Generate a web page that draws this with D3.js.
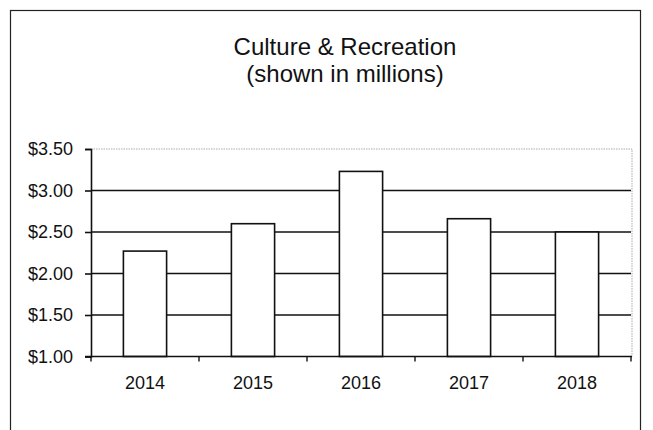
<!DOCTYPE html>
<html>
<head>
<meta charset="utf-8">
<script src="https://cdn.jsdelivr.net/npm/d3@7"></script>
<style>
  html, body { margin: 0; padding: 0; background: #fff; }
  svg { display: block; }
  text { font-family: "Liberation Sans", Arial, sans-serif; fill: #111; }
</style>
</head>
<body>
<svg id="chart" width="653" height="430"></svg>
<script>
// Culture & Recreation spending by year, in millions of dollars
const years = ["2014", "2015", "2016", "2017", "2018"];
const spending = [2.27, 2.60, 3.23, 2.66, 2.50];
const yTicks = [1.00, 1.50, 2.00, 2.50, 3.00, 3.50];
const titleLines = ["Culture & Recreation", "(shown in millions)"];

const svg = d3.select("#chart");
const W = 653, H = 430;
const plot = { left: 91, right: 631, top: 149, bottom: 356.5 };
const FONT = "Liberation Sans, Arial, sans-serif";

// outer frame (open at the bottom edge of the page)
svg.append("rect")
  .attr("x", 10.5).attr("y", 10.5)
  .attr("width", 630).attr("height", H + 10)
  .attr("fill", "none").attr("stroke", "#222").attr("stroke-width", 1.2);

// title
svg.append("g").selectAll("text")
  .data(titleLines)
  .join("text")
  .attr("x", 345)
  .attr("y", (d, i) => 55 + i * 27)
  .attr("text-anchor", "middle")
  .attr("font-size", 24)
  .text(d => d);

const x = d3.scaleBand()
  .domain(years)
  .range([plot.left, plot.right])
  .paddingInner(0.6)
  .paddingOuter(0.3);

const y = d3.scaleLinear()
  .domain([1, 3.5])
  .range([plot.bottom, plot.top]);

// plot area border (light dotted top and right)
svg.append("path")
  .attr("d", `M${plot.left},${plot.top}H${plot.right + 1}V${plot.bottom}`)
  .attr("fill", "none")
  .attr("stroke", "#aaa")
  .attr("stroke-width", 1)
  .attr("stroke-dasharray", "1.5,1");

// horizontal gridlines
svg.append("g").selectAll("line")
  .data(yTicks.filter(t => t > 1 && t < 3.5))
  .join("line")
  .attr("x1", plot.left).attr("x2", plot.right)
  .attr("y1", d => y(d)).attr("y2", d => y(d))
  .attr("stroke", "#111").attr("stroke-width", 1.6);

// bars
svg.append("g").selectAll("rect")
  .data(years.map((yr, i) => ({ yr, v: spending[i] })))
  .join("rect")
  .attr("x", d => x(d.yr))
  .attr("y", d => y(d.v))
  .attr("width", x.bandwidth())
  .attr("height", d => y(1) - y(d.v))
  .attr("fill", "#fff")
  .attr("stroke", "#111")
  .attr("stroke-width", 1.6);

// y axis
const yAxis = d3.axisLeft(y)
  .tickValues(yTicks)
  .tickSize(6)
  .tickPadding(12)
  .tickFormat(d => "$" + d3.format(".2f")(d));
const yg = svg.append("g")
  .attr("transform", `translate(${plot.left},0)`)
  .call(yAxis);
yg.attr("font-size", 18).attr("font-family", FONT);
yg.select(".domain").attr("stroke", "#111").attr("stroke-width", 1.6);
yg.selectAll(".tick line").attr("stroke", "#111").attr("stroke-width", 1.6);
yg.selectAll(".tick text").attr("fill", "#111");

// x axis with ticks between categories
const xg = svg.append("g")
  .attr("transform", `translate(0,${plot.bottom})`);
xg.append("line")
  .attr("x1", plot.left - 6).attr("x2", plot.right + 1)
  .attr("stroke", "#111").attr("stroke-width", 1.6);
const boundaries = d3.range(years.length + 1)
  .map(i => plot.left + i * (plot.right - plot.left) / years.length);
xg.selectAll("line.tk")
  .data(boundaries)
  .join("line")
  .attr("class", "tk")
  .attr("x1", d => d).attr("x2", d => d)
  .attr("y1", 0).attr("y2", 5)
  .attr("stroke", "#111").attr("stroke-width", 1.4);
xg.selectAll("text")
  .data(years)
  .join("text")
  .attr("x", d => x(d) + x.bandwidth() / 2)
  .attr("y", 389 - plot.bottom)
  .attr("text-anchor", "middle")
  .attr("font-size", 18)
  .text(d => d);
</script>
</body>
</html>
